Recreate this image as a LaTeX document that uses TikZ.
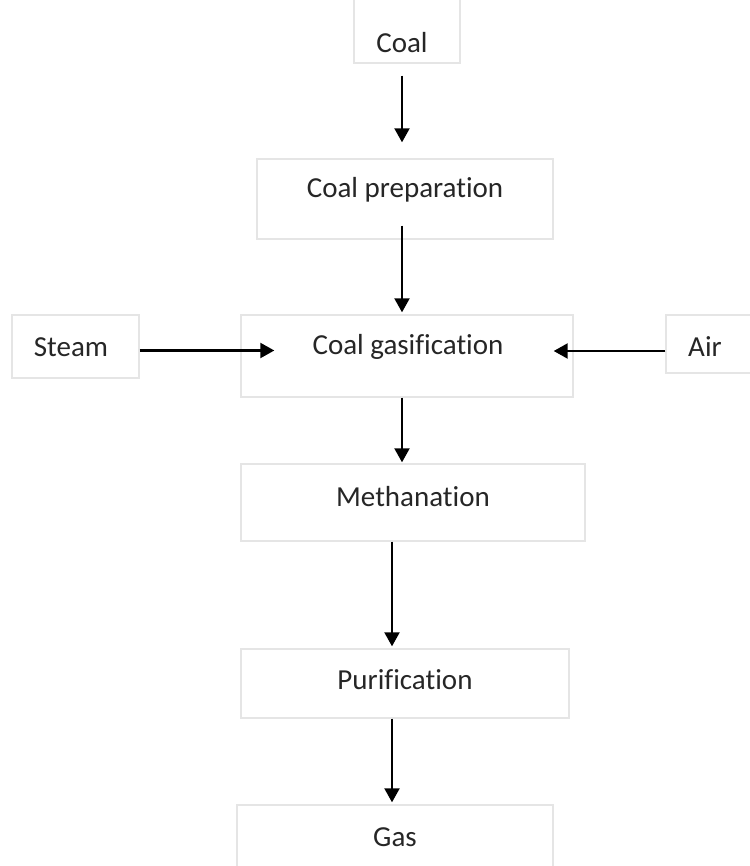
\documentclass[tikz,border=0pt]{standalone}
\usepackage{fontspec}
\setmainfont{Carlito}[Ligatures=NoCommon]
\usetikzlibrary{arrows.meta}
\begin{document}
\begin{tikzpicture}[x=1pt,y=-1pt,
	box/.style={draw=black!10,line width=1.4pt,inner sep=0pt,minimum width=#1},
	txt/.style={text=black!85,font=\fontsize{29}{32}\selectfont,inner sep=0pt},
	flow/.style={line width=2.2pt,-{Triangle[length=14pt,width=15pt]}}]
		\useasboundingbox (0,0) rectangle (749,866);
		%boxes
		\node[box=106pt,minimum height=66pt] (coal) at (407,30) {};
		\node[box=296pt,minimum height=80pt] (prep) at (405,199) {};
		\node[box=332pt,minimum height=82pt] (gasif) at (407,356) {};
		\node[box=127pt,minimum height=63pt] (steam) at (75.5,346.5) {};
		\node[box=89pt,minimum height=58pt] (air) at (710.5,344) {};
		\node[box=344pt,minimum height=77pt] (meth) at (413,502.5) {};
		\node[box=328pt,minimum height=69pt] (pur) at (405,683.5) {};
		\node[box=316pt,minimum height=65pt] (gas) at (395,837.5) {};
		%labels
		\node[txt] (coal-t) at (402,43) {Coal};
		\node[txt] (prep-t) at (405,190) {Coal preparation};
		\node[txt] (gasif-t) at (408,347) {Coal gasification};
		\node[txt] (steam-t) at (71,347) {Steam};
		\node[txt] (air-t) at (705,347) {Air};
		\node[txt] (meth-t) at (413,497) {Methanation};
		\node[txt] (pur-t) at (405,680) {Purification};
		\node[txt] (gas-t) at (395,837) {Gas};
		%flows
		\draw[flow,shorten <=12pt,shorten >=16pt] ([xshift=-5pt]coal.south) -- ([xshift=-3pt]prep.north);
		\draw[flow,shorten <=-14pt,shorten >=2pt] ([xshift=-3pt]prep.south) -- ([xshift=-5pt]gasif.north);
		\draw[flow,shorten >=-34pt] ([yshift=-4pt]steam.east) -- ([yshift=-4pt]steam.east -| gasif.west);
		\draw[flow,shorten >=-20pt] ([yshift=-7pt]air.west) -- ([yshift=-7pt]air.west -| gasif.east);
		\draw[flow,shorten >=1pt] ([xshift=-5pt]gasif.south) -- ([xshift=-11pt]meth.north);
		\draw[flow,shorten >=2pt] ([xshift=-21pt]meth.south) -- ([xshift=-13pt]pur.north);
		\draw[flow,shorten >=2pt] ([xshift=-13pt]pur.south) -- ([xshift=-3pt]gas.north); %product
\end{tikzpicture}
\end{document}
